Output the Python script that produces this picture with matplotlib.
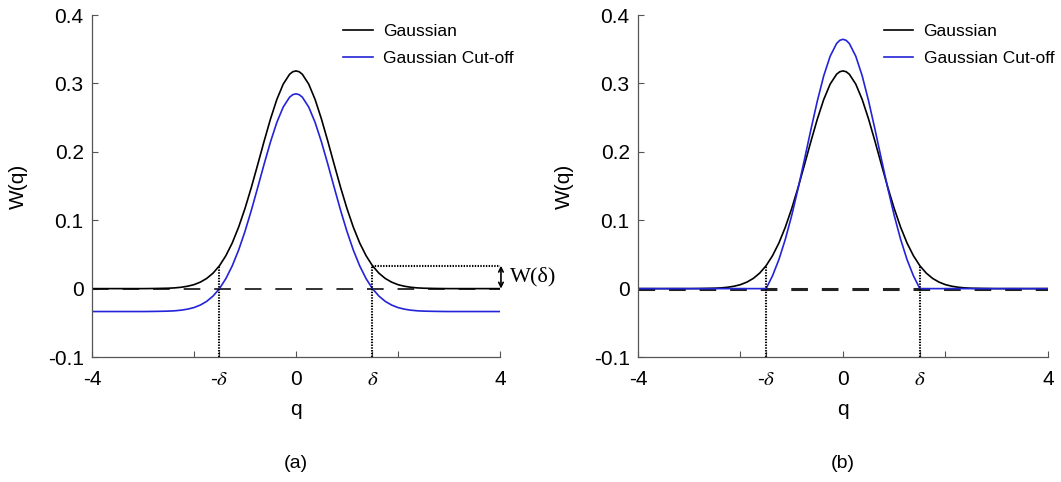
import matplotlib
matplotlib.use("Agg")
import matplotlib.pyplot as plt

plt.rcParams["font.family"] = ["Liberation Sans", "DejaVu Sans"]
plt.rcParams["mathtext.fontset"] = "stix"
plt.rcParams["axes.unicode_minus"] = False
plt.rcParams["lines.scale_dashes"] = False

# values (q, W(q))
q = [-4.0, -3.5, -3.0, -2.75, -2.5, -2.375, -2.25, -2.125, -2.0, -1.875, -1.75, -1.625,
     -1.5, -1.375, -1.25, -1.125, -1.0, -0.875, -0.75, -0.625, -0.5, -0.375, -0.25, -0.125, -0.0625,
     0.0, 0.0625, 0.125, 0.25, 0.375, 0.5, 0.625, 0.75, 0.875, 1.0, 1.125, 1.25, 1.375,
     1.5, 1.625, 1.75, 1.875, 2.0, 2.125, 2.25, 2.375, 2.5, 2.75, 3.0, 3.5, 4.0]
gaussian = [0.0, 0.0, 0.0, 0.0002, 0.0006, 0.0011, 0.0020, 0.0035, 0.0058, 0.0095, 0.0149, 0.0227,
            0.0335, 0.0481, 0.0667, 0.0898, 0.1171, 0.1480, 0.1814, 0.2154, 0.2479, 0.2766, 0.2990, 0.3134, 0.3171,
            0.3183, 0.3171, 0.3134, 0.2990, 0.2766, 0.2479, 0.2154, 0.1814, 0.1480, 0.1171, 0.0898, 0.0667, 0.0481,
            0.0335, 0.0227, 0.0149, 0.0095, 0.0058, 0.0035, 0.0020, 0.0011, 0.0006, 0.0002, 0.0, 0.0, 0.0]
cutoff_shifted = [-0.0335, -0.0335, -0.0335, -0.0333, -0.0329, -0.0324, -0.0315, -0.0300, -0.0277, -0.0240, -0.0186, -0.0108,
                  0.0, 0.0146, 0.0332, 0.0563, 0.0836, 0.1145, 0.1479, 0.1819, 0.2144, 0.2431, 0.2655, 0.2799, 0.2836,
                  0.2848, 0.2836, 0.2799, 0.2655, 0.2431, 0.2144, 0.1819, 0.1479, 0.1145, 0.0836, 0.0563, 0.0332, 0.0146,
                  0.0, -0.0108, -0.0186, -0.0240, -0.0277, -0.0300, -0.0315, -0.0324, -0.0329, -0.0333, -0.0335, -0.0335, -0.0335]
cutoff_normalised = [0.0, 0.0, 0.0, 0.0, 0.0, 0.0, 0.0, 0.0, 0.0, 0.0, 0.0, 0.0,
                     0.0, 0.0187, 0.0425, 0.0721, 0.1070, 0.1466, 0.1893, 0.2328, 0.2744, 0.3112, 0.3398, 0.3583, 0.3630,
                     0.3645, 0.3630, 0.3583, 0.3398, 0.3112, 0.2744, 0.2328, 0.1893, 0.1466, 0.1070, 0.0721, 0.0425, 0.0187,
                     0.0, 0.0, 0.0, 0.0, 0.0, 0.0, 0.0, 0.0, 0.0, 0.0, 0.0, 0.0, 0.0]
delta = 1.5
w_delta = 0.0335

xticks = [-4, -2, -delta, 0, delta, 2, 4]
xtick_labels = ["-4", "", r"-$\delta$", "0", r"$\delta$", "", "4"]
yticks = [-0.1, 0, 0.1, 0.2, 0.3, 0.4]
ytick_labels = ["-0.1", "0", "0.1", "0.2", "0.3", "0.4"]

BLUE = "#2323d8"

fig = plt.figure(figsize=(10.61, 4.82), dpi=100)
ax_a = fig.add_axes([0.0867, 0.2593, 0.3845, 0.7095])
ax_b = fig.add_axes([0.6013, 0.2593, 0.3864, 0.7095])


def style_axes(ax, panel, legend_x):
    ax.set_xlim(-4, 4)
    ax.set_ylim(-0.1, 0.4)
    ax.spines["top"].set_visible(False)
    ax.spines["right"].set_visible(False)
    for s in ["left", "bottom"]:
        ax.spines[s].set_color("#555555")
        ax.spines[s].set_linewidth(0.9)
    ax.set_xticks(xticks)
    ax.set_xticklabels(xtick_labels)
    ax.set_yticks(yticks)
    ax.set_yticklabels(ytick_labels)
    ax.tick_params(direction="in", length=4, width=0.8, color="#555555", labelsize=15)
    ax.tick_params(axis="x", pad=9.5)
    ax.tick_params(axis="y", pad=6)
    ax.set_xlabel("q", fontsize=15, labelpad=8)
    ax.set_ylabel("W(q)", fontsize=15, labelpad=14)
    ax.text(0.5, -0.31, panel, transform=ax.transAxes, ha="center", va="center", fontsize=14)
    ax.legend(loc="upper left", bbox_to_anchor=(legend_x, 1.0), frameon=False, fontsize=12.5,
              borderpad=0, handlelength=1.7, handletextpad=0.6, labelspacing=0.7)


# (a)
ax_a.plot(q, [0] * len(q), color="#222222", lw=1.3, dashes=(12, 10))
ax_a.plot(q, gaussian, color="black", lw=1.2, label="Gaussian")
ax_a.plot(q, cutoff_shifted, color=BLUE, lw=1.2, label="Gaussian Cut-off")
for x in (-delta, delta):
    ax_a.plot([x, x], [-0.1, w_delta], color="black", lw=1.5, ls=(0, (1, 1)))
ax_a.plot([delta, 4], [w_delta, w_delta], color="black", lw=1.5, ls=(0, (1, 1)))
ax_a.annotate("", xy=(4.02, w_delta), xytext=(4.02, 0.0), annotation_clip=False,
              arrowprops=dict(arrowstyle="<->", lw=1.2, color="black", mutation_scale=8, shrinkA=0, shrinkB=0))
ax_a.text(4.2, w_delta / 2, "W(δ)", family=["Liberation Serif", "DejaVu Serif"], fontsize=16,
          ha="left", va="center", clip_on=False)
style_axes(ax_a, "(a)", 0.595)

# (b)
ax_b.plot(q, [0] * len(q), color="#222222", lw=2.2, dashes=(12, 10))
ax_b.plot(q, gaussian, color="black", lw=1.2, label="Gaussian")
ax_b.plot(q, cutoff_normalised, color=BLUE, lw=1.2, label="Gaussian Cut-off")
for x in (-delta, delta):
    ax_b.plot([x, x], [-0.1, w_delta], color="black", lw=1.5, ls=(0, (1, 1)))
style_axes(ax_b, "(b)", 0.578)

fig.savefig("out.png", dpi=100)
